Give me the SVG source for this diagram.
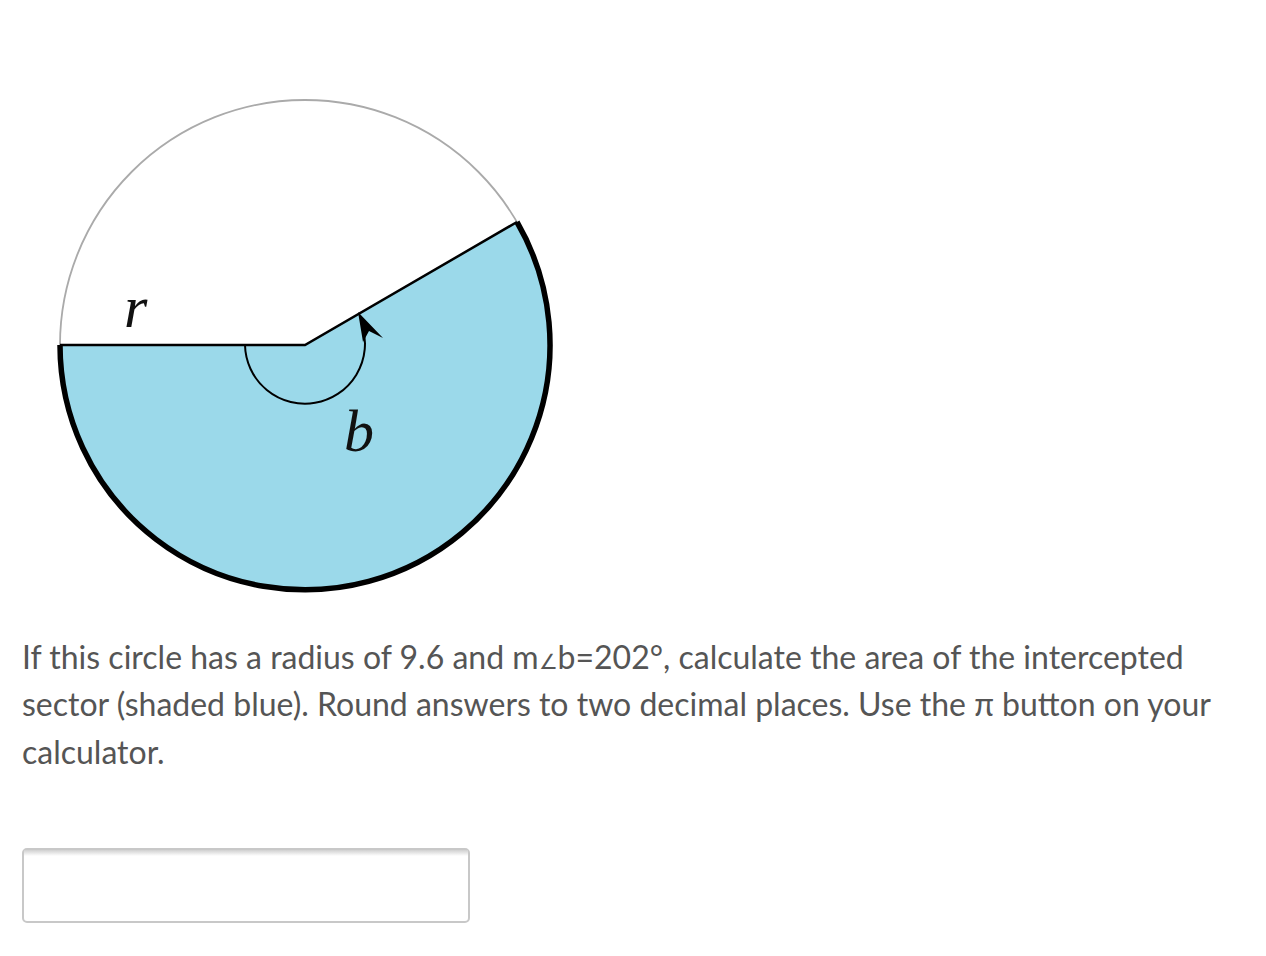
<svg xmlns="http://www.w3.org/2000/svg" width="1266" height="956" viewBox="0 0 1266 956">
<defs>
<style>
.q{font-family:Lato,"Open Sans","Liberation Sans",sans-serif;font-size:32px;fill:#555}
.v{font-family:"Liberation Serif","DejaVu Serif",serif;font-style:italic;font-size:60px;fill:#111}
</style>
<linearGradient id="sh" x1="0" y1="0" x2="0" y2="1">
<stop offset="0" stop-color="#d0d0d0"/>
<stop offset="1" stop-color="#ffffff"/>
</linearGradient>
</defs>
<rect width="1266" height="956" fill="#fff"/>
<g id="circle">
<circle cx="305" cy="345" r="245" fill="#fff" stroke="#aaa" stroke-width="1.8"/>
<path d="M305,345 L60,345 A245,245 0 1,0 517,222 Z" fill="#9bd9ea"/>
<path d="M60,345 A245,245 0 1,0 517,222" fill="none" stroke="#000" stroke-width="5.5"/>
<path d="M60,345 L305,345 L517,222" fill="none" stroke="#000" stroke-width="2.5"/>
</g>
<g id="angle">
<path d="M245,345 A60,60 0 1,0 362,325" fill="none" stroke="#000" stroke-width="2"/>
<path d="M358,312 L383,338 L369,331 L363,342 Z" fill="#000"/>
</g>
<g id="labels">
<text class="v" x="124" y="327" font-size="64">r</text>
<text class="v" x="344" y="451">b</text>
</g>
<g id="question">
<text class="q" x="22" y="669">If this circle has a radius of 9.6 and m<tspan font-size="21">∠</tspan>b=202°, calculate the area of the intercepted</text>
<text class="q" x="22" y="716">sector (shaded blue). Round answers to two decimal places. Use the π button on your</text>
<text class="q" x="22" y="764">calculator.</text>
</g>
<g id="input">
<rect x="23" y="849" width="446" height="73" rx="4" fill="#fff" stroke="#c8c8c8" stroke-width="2"/>
<rect x="24" y="850" width="444" height="6" fill="url(#sh)"/>
</g>
</svg>
